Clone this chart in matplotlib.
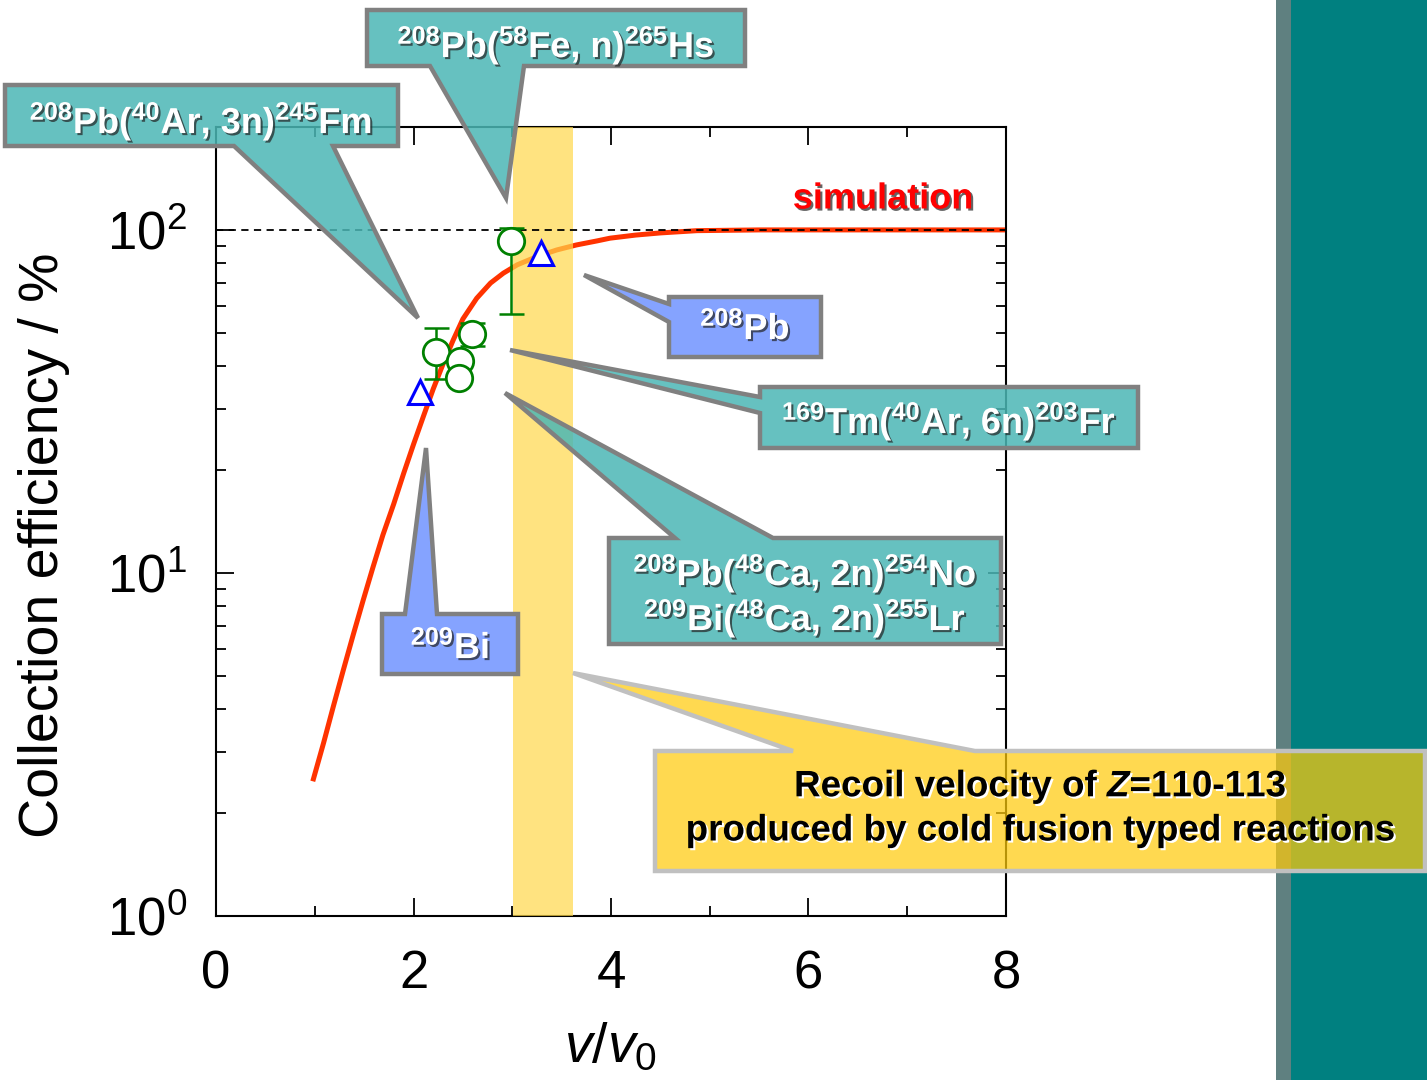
import matplotlib
matplotlib.use("Agg")
import matplotlib.pyplot as plt
import matplotlib.patheffects as pe
from matplotlib.patches import Polygon, Rectangle

plt.rcParams['font.family'] = ['Liberation Sans', 'DejaVu Sans']
plt.rcParams['mathtext.fontset'] = 'custom'
plt.rcParams['mathtext.rm'] = 'Liberation Sans'
plt.rcParams['mathtext.it'] = 'Liberation Sans:italic'
plt.rcParams['mathtext.bf'] = 'Liberation Sans:bold'
plt.rcParams['mathtext.sf'] = 'Liberation Sans:italic:bold'
plt.rcParams['mathtext.default'] = 'regular'

# simulated collection efficiency
sim_v = [0.98, 1.09, 1.19, 1.29, 1.39, 1.49, 1.59, 1.69, 1.80, 1.90, 2.00,
         2.10, 2.20, 2.30, 2.40, 2.50, 2.64, 2.78, 2.91, 3.05, 3.25, 3.45,
         3.65, 3.86, 3.99, 4.25, 4.50, 4.87, 5.5, 6.5, 7.5, 8.0]
sim_eff = [2.47, 3.20, 4.10, 5.22, 6.61, 8.32, 10.4, 12.9, 15.9, 19.5, 23.7,
           28.6, 34.4, 40.7, 47.6, 55.0, 63.2, 70.0, 74.8, 79.1, 83.6, 87.4,
           90.4, 92.9, 94.6, 96.6, 98.0, 99.5, 100, 100, 100, 100]

# measured, reactions (open circles)
circ_v = [2.23, 2.59, 2.47, 2.46, 2.99]
circ_eff = [44.1, 49.7, 41.5, 37.0, 92.9]
# the ones that carry error bars
err_v = [2.23, 2.59, 2.99]
err_eff = [44.1, 49.7, 92.9]
err_lo = [36.7, 45.9, 56.9]
err_hi = [51.8, 53.6, 101.0]

# measured, beams (open triangles)
tri_v = [2.07, 3.29]
tri_eff = [33.7, 85.7]

band_v = [3.01, 3.62]   # recoil velocity of Z=110-113

fig = plt.figure(figsize=(14.27, 10.8), dpi=100)
ax = fig.add_axes([216 / 1427, 164 / 1080, 790 / 1427, 789 / 1080])

ax.plot(sim_v, sim_eff, color='#FF3300', lw=3.6, zorder=2, solid_capstyle='butt')
ax.axvspan(band_v[0], band_v[1], color='#FFD84A', alpha=0.7, lw=0, zorder=3)
ax.axhline(100, color='black', lw=1.3, ls=(0, (4, 3)), zorder=4)

yerr = [[e - l for e, l in zip(err_eff, err_lo)], [h - e for e, h in zip(err_eff, err_hi)]]
ax.errorbar(err_v, err_eff, yerr=yerr, fmt='none', ecolor='green', elinewidth=1.8,
            capsize=9, capthick=1.8, zorder=5)
ax.plot(circ_v, circ_eff, 'o', ms=19, mfc='white', mec='green', mew=2, zorder=6)
ax.plot(tri_v, tri_eff, '^', ms=17, mfc='white', mec='blue', mew=2.2, zorder=6)

ax.set_yscale('log')
ax.set_xlim(0, 8)
ax.set_ylim(1, 10 ** 2.3)
ax.set_xticks([0, 2, 4, 6, 8])
ax.set_xticks([1, 3, 5, 7], minor=True)
ax.set_yticks([1, 10, 100], labels=[r'$10^0$', r'$10^1$', r'$10^2$'])
ax.tick_params(which='both', direction='in', top=True, right=True, width=1.3, colors='black')
ax.tick_params(which='major', length=13, labelsize=38)
ax.tick_params(which='minor', length=7)
ax.tick_params(axis='x', pad=24)
ax.tick_params(axis='y', pad=21)
for s in ax.spines.values():
    s.set_linewidth(1.5)

ax.set_xlabel(r'$\mathit{v/v_0}$', fontsize=40)
ax.xaxis.set_label_coords(0.5, -0.135)
ax.set_ylabel('Collection efficiency / %', fontsize=40)
ax.yaxis.set_label_coords(-0.185, 0.47)

shadow = [pe.SimplePatchShadow(offset=(1.5, -1.5), shadow_rgbFace='#222222', alpha=0.7), pe.Normal()]
shadow_w = [pe.SimplePatchShadow(offset=(1.5, -1.5), shadow_rgbFace='white', alpha=1.0), pe.Normal()]

# overlay in image pixels for the callouts
ov = fig.add_axes([0, 0, 1, 1], zorder=5)
ov.set_xlim(0, 1427)
ov.set_ylim(1080, 0)
ov.axis('off')
ov.patch.set_alpha(0)

ov.add_patch(Rectangle((1276, 0), 15, 1080, color='#5F8080', lw=0, zorder=0))
ov.add_patch(Rectangle((1291, 0), 136, 1080, color='#008080', lw=0, zorder=0))

teal = '#4BB7B5'
blue = '#85A3FF'
callouts = [
    ([(5, 85), (398, 85), (398, 146), (333, 146), (418, 318), (234, 146), (5, 146)], teal, 0.85, '#808080'),
    ([(367, 10), (745, 10), (745, 66), (524, 66), (506, 198), (430, 66), (367, 66)], teal, 0.85, '#808080'),
    ([(669, 297), (821, 297), (821, 357), (669, 357), (669, 322), (584, 275), (669, 304)], blue, 1.0, '#808080'),
    ([(760, 387), (1138, 387), (1138, 448), (760, 448), (760, 413), (510, 350), (760, 397)], teal, 0.85, '#808080'),
    ([(609, 538), (675, 538), (505, 393), (773, 538), (1001, 538), (1001, 644), (609, 644)], teal, 0.85, '#808080'),
    ([(382, 614), (405, 614), (426, 448), (437, 614), (518, 614), (518, 674), (382, 674)], blue, 1.0, '#808080'),
    ([(655, 751), (793, 751), (573, 673), (975, 751), (1425, 751), (1425, 871), (655, 871)], '#FFCB0C', 0.72, '#C0C0C0'),
]
for verts, fc, a, ec in callouts:
    ov.add_patch(Polygon(verts, closed=True, facecolor=fc, alpha=a, edgecolor='none', zorder=2))
    ov.add_patch(Polygon(verts, closed=True, facecolor='none', edgecolor=ec, lw=3.2,
                         joinstyle='miter', zorder=3))

labels = [
    (201, 121, r'$^{208}$Pb($^{40}$Ar, 3n)$^{245}$Fm'),
    (556, 45, r'$^{208}$Pb($^{58}$Fe, n)$^{265}$Hs'),
    (745, 329, r'$^{208}$Pb'),
    (949, 421, r'$^{169}$Tm($^{40}$Ar, 6n)$^{203}$Fr'),
    (805, 573, r'$^{208}$Pb($^{48}$Ca, 2n)$^{254}$No'),
    (805, 618, r'$^{209}$Bi($^{48}$Ca, 2n)$^{255}$Lr'),
    (450, 648, r'$^{209}$Bi'),
]
for x, y, s in labels:
    ov.text(x, y, s, color='white', fontsize=26, fontweight='bold', ha='center', va='center',
            path_effects=shadow, zorder=4)

ov.text(1040, 787, r'Recoil velocity of $\mathsf{Z}$=110-113', color='black', fontsize=26.5,
        fontweight='bold', ha='center', va='center', path_effects=shadow_w, zorder=4)
ov.text(1040, 831, 'produced by cold fusion typed reactions', color='black', fontsize=26.5,
        fontweight='bold', ha='center', va='center', path_effects=shadow_w, zorder=4)
ov.text(883, 199, 'simulation', color='red', fontsize=26, fontweight='bold', ha='center',
        va='center', path_effects=shadow, zorder=4)

fig.savefig('out.png', dpi=100)
